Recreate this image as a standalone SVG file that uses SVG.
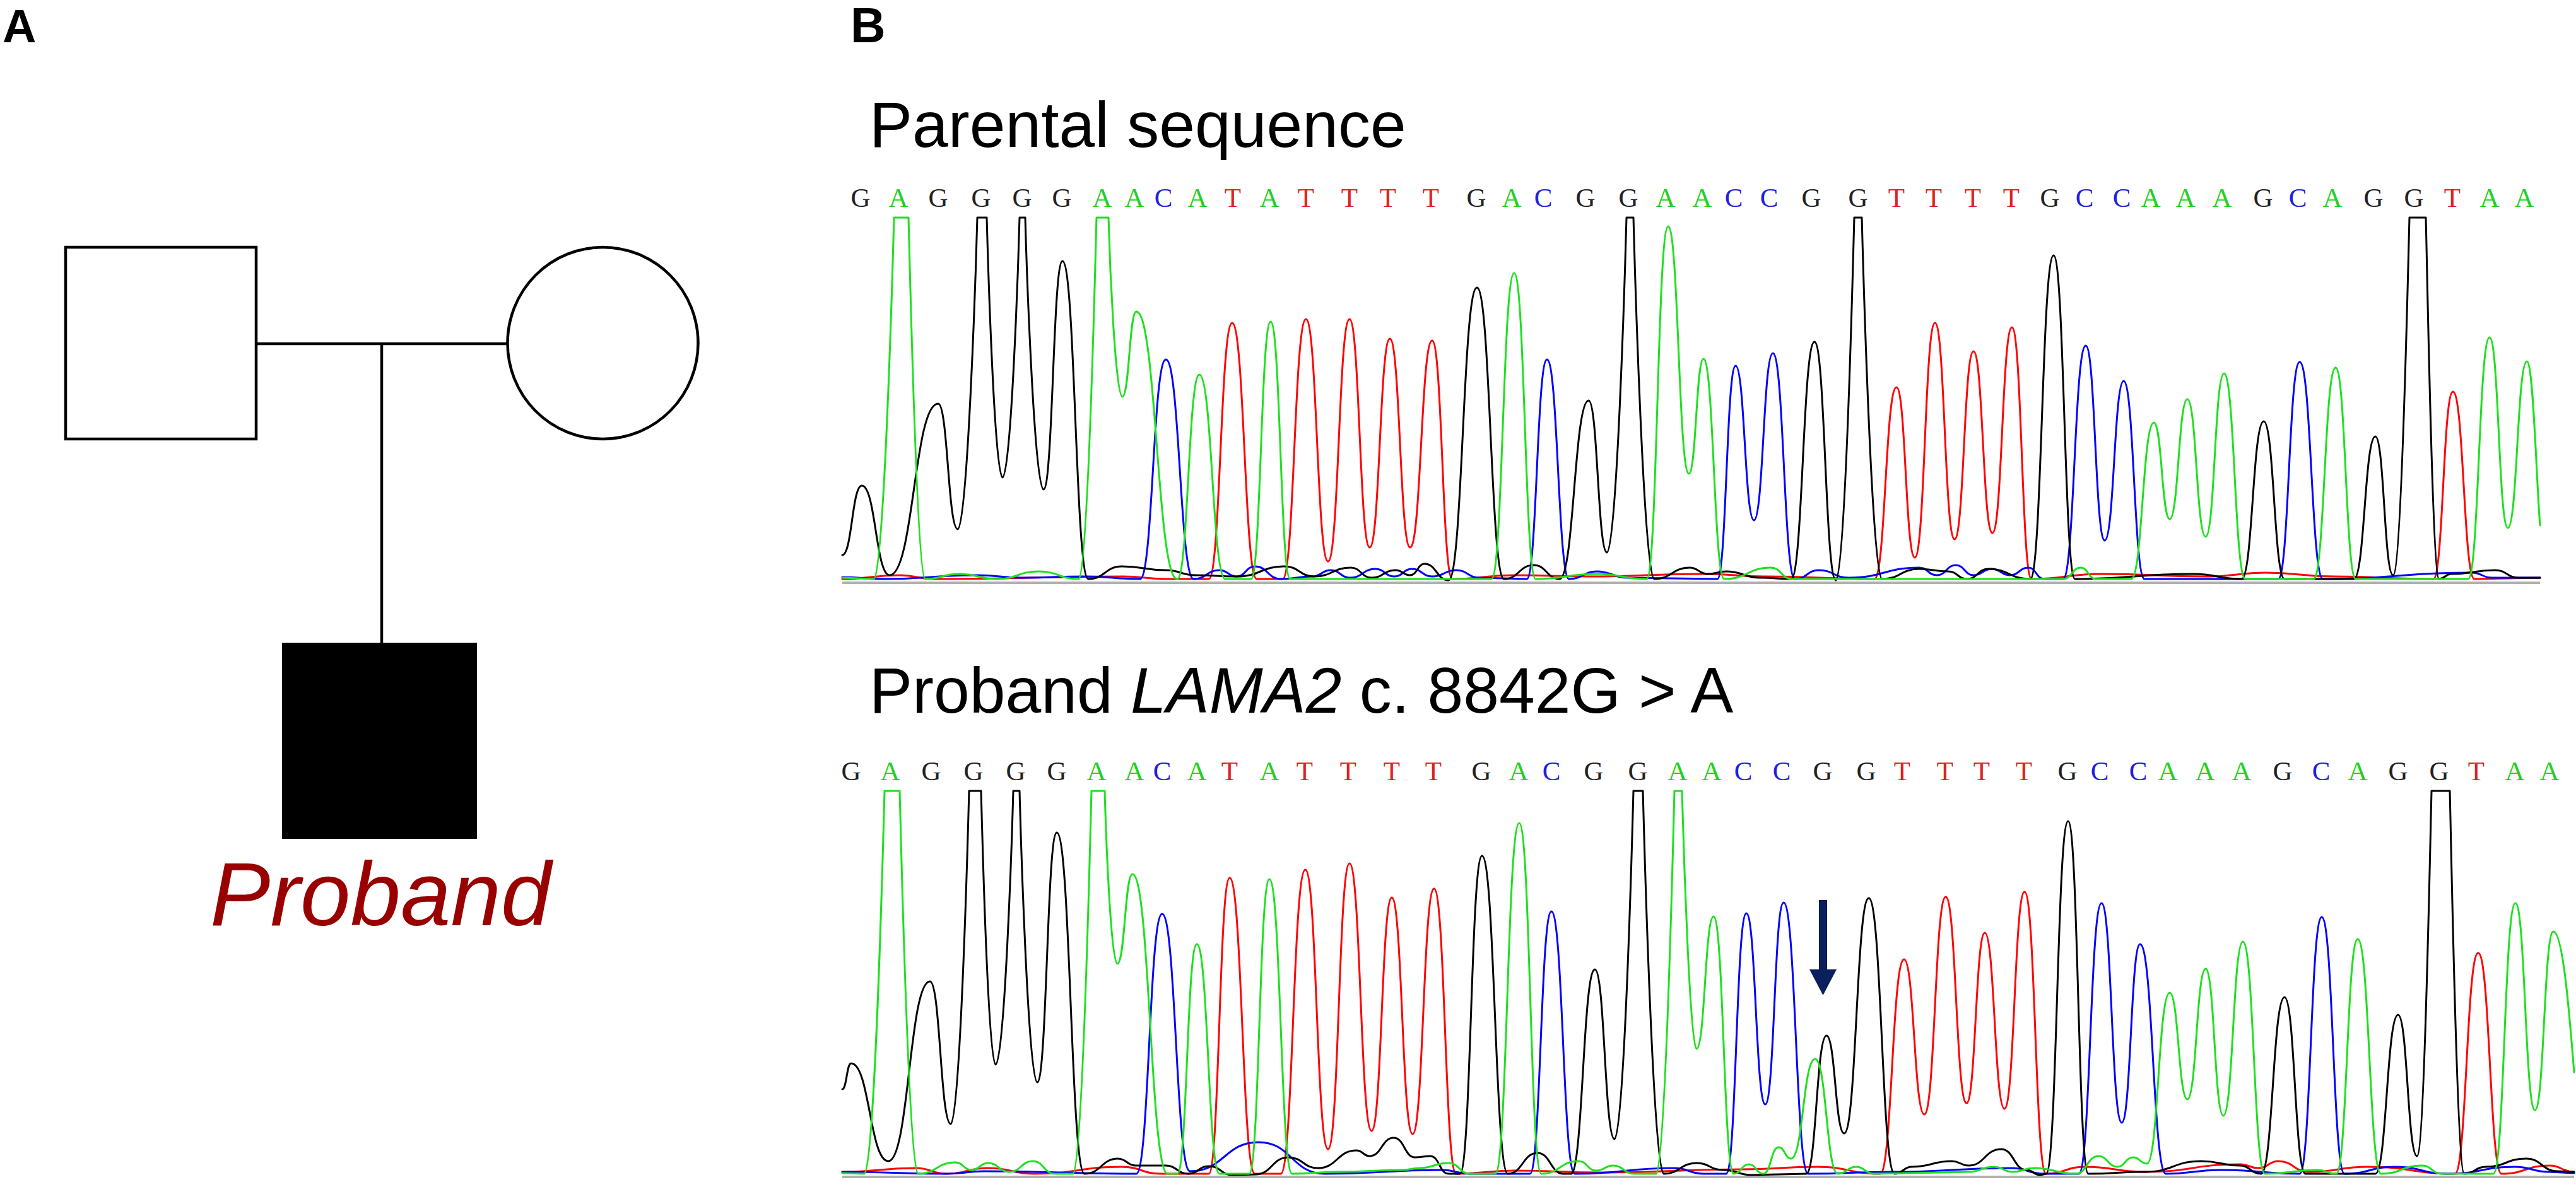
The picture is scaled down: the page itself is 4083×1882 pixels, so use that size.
<svg xmlns="http://www.w3.org/2000/svg" width="4083" height="1882" viewBox="0 0 4083 1882">
<style>
.lbl{font-family:"Liberation Sans",Arial,sans-serif;font-weight:bold;fill:#000}
.ped{fill:#fff;stroke:#000;stroke-width:4.5}
.con{fill:none;stroke:#000;stroke-width:4.5}
.title{font-family:"Liberation Sans",Arial,sans-serif;font-size:102px;fill:#000}
.seq{font-family:"Liberation Serif","Times New Roman",serif;font-size:43px;text-anchor:middle}
.sG{fill:#222}.sA{fill:#22d022}.sC{fill:#2020e0}.sT{fill:#e02020}
.tr{fill:none;stroke-width:3;stroke-linejoin:round;stroke-linecap:round}
.k{stroke:#000}.g{stroke:#1ee01e}.b{stroke:#0000ff}.r{stroke:#ff0000}
.axis{fill:#b0b0b0}
</style>

<text class="lbl" x="4" y="67" font-size="74">A</text>
<text class="lbl" x="1348" y="67" font-size="77">B</text>

<g id="connectors">
  <line class="con" x1="406" y1="545" x2="804" y2="545"/>
  <line class="con" x1="605" y1="545" x2="605" y2="1020"/>
</g>
<g id="father"><rect class="ped" x="104" y="392" width="302" height="304"/></g>
<g id="mother"><ellipse class="ped" cx="955.5" cy="544" rx="151" ry="152"/></g>
<g id="proband">
  <rect x="448" y="1020" width="307" height="309" fill="#000" stroke="#000" stroke-width="2"/>
  <text x="333" y="1467" font-family="'Liberation Sans',Arial,sans-serif" font-style="italic" font-size="143" fill="#990000">Proband</text>
</g>

<text class="title" x="1378" y="233">Parental sequence</text>
<text class="title" x="1378" y="1130">Proband <tspan font-style="italic">LAMA2</tspan> c. 8842G &gt; A</text>

<g id="seq-top" class="seq">
<text class="sG" x="1364" y="328">G</text><text class="sA" x="1424" y="328">A</text><text class="sG" x="1487" y="328">G</text><text class="sG" x="1555" y="328">G</text><text class="sG" x="1620" y="328">G</text><text class="sG" x="1683" y="328">G</text><text class="sA" x="1747" y="328">A</text><text class="sA" x="1798" y="328">A</text><text class="sC" x="1844" y="328">C</text><text class="sA" x="1898" y="328">A</text><text class="sT" x="1954" y="328">T</text><text class="sA" x="2012" y="328">A</text><text class="sT" x="2070" y="328">T</text><text class="sT" x="2139" y="328">T</text><text class="sT" x="2200" y="328">T</text><text class="sT" x="2268" y="328">T</text><text class="sG" x="2340" y="328">G</text><text class="sA" x="2396" y="328">A</text><text class="sC" x="2446" y="328">C</text><text class="sG" x="2513" y="328">G</text><text class="sG" x="2581" y="328">G</text><text class="sA" x="2640" y="328">A</text><text class="sA" x="2698" y="328">A</text><text class="sC" x="2748" y="328">C</text><text class="sC" x="2804" y="328">C</text><text class="sG" x="2871" y="328">G</text><text class="sG" x="2945" y="328">G</text><text class="sT" x="3006" y="328">T</text><text class="sT" x="3065" y="328">T</text><text class="sT" x="3127" y="328">T</text><text class="sT" x="3188" y="328">T</text><text class="sG" x="3249" y="328">G</text><text class="sC" x="3304" y="328">C</text><text class="sC" x="3363" y="328">C</text><text class="sA" x="3409" y="328">A</text><text class="sA" x="3464" y="328">A</text><text class="sA" x="3522" y="328">A</text><text class="sG" x="3587" y="328">G</text><text class="sC" x="3642" y="328">C</text><text class="sA" x="3697" y="328">A</text><text class="sG" x="3762" y="328">G</text><text class="sG" x="3826" y="328">G</text><text class="sT" x="3887" y="328">T</text><text class="sA" x="3946" y="328">A</text><text class="sA" x="4001" y="328">A</text>
</g>

<g id="seq-bottom" class="seq">
<text class="sG" x="1349" y="1237">G</text><text class="sA" x="1411" y="1237">A</text><text class="sG" x="1476" y="1237">G</text><text class="sG" x="1543" y="1237">G</text><text class="sG" x="1610" y="1237">G</text><text class="sG" x="1675" y="1237">G</text><text class="sA" x="1738" y="1237">A</text><text class="sA" x="1798" y="1237">A</text><text class="sC" x="1842" y="1237">C</text><text class="sA" x="1897" y="1237">A</text><text class="sT" x="1949" y="1237">T</text><text class="sA" x="2012" y="1237">A</text><text class="sT" x="2068" y="1237">T</text><text class="sT" x="2137" y="1237">T</text><text class="sT" x="2206" y="1237">T</text><text class="sT" x="2272" y="1237">T</text><text class="sG" x="2348" y="1237">G</text><text class="sA" x="2407" y="1237">A</text><text class="sC" x="2459" y="1237">C</text><text class="sG" x="2526" y="1237">G</text><text class="sG" x="2596" y="1237">G</text><text class="sA" x="2659" y="1237">A</text><text class="sA" x="2713" y="1237">A</text><text class="sC" x="2763" y="1237">C</text><text class="sC" x="2824" y="1237">C</text><text class="sG" x="2889" y="1237">G</text><text class="sG" x="2958" y="1237">G</text><text class="sT" x="3015" y="1237">T</text><text class="sT" x="3083" y="1237">T</text><text class="sT" x="3141" y="1237">T</text><text class="sT" x="3208" y="1237">T</text><text class="sG" x="3277" y="1237">G</text><text class="sC" x="3328" y="1237">C</text><text class="sC" x="3389" y="1237">C</text><text class="sA" x="3436" y="1237">A</text><text class="sA" x="3495" y="1237">A</text><text class="sA" x="3553" y="1237">A</text><text class="sG" x="3618" y="1237">G</text><text class="sC" x="3679" y="1237">C</text><text class="sA" x="3737" y="1237">A</text><text class="sG" x="3801" y="1237">G</text><text class="sG" x="3866" y="1237">G</text><text class="sT" x="3925" y="1237">T</text><text class="sA" x="3986" y="1237">A</text><text class="sA" x="4041" y="1237">A</text>
</g>

<g id="chromatogram-top">
<rect class="axis" x="1335" y="922" width="2691" height="4"/>
<path class="tr r" d="M1335,918 C1380.5,918 1380.5,912 1426,912 C1453,912 1453,918 1480,918 C1630,918 1630,914 1780,914 C1815,914 1815,918 1850,918 L1916,918 C1934.5,918 1934.5,512 1953,512 C1972.5,512 1972.5,918 1992,918 L2033,918 C2051.5,918 2051.5,506 2070,506 C2087.5,506 2087.5,890 2105,890 C2122,890 2122,506 2139,506 C2155,506 2155,868 2171,868 C2187,868 2187,537 2203,537 C2219,537 2219,868 2235,868 C2252.5,868 2252.5,540 2270,540 C2286,540 2286,918 2302,918 C2351,918 2351,912 2400,912 C2460,912 2460,914 2520,914 C2610,914 2610,910 2700,910 C2750,910 2750,914 2800,914 C2885.5,914 2885.5,918 2971,918 C2988.5,918 2988.5,614 3006,614 C3020.5,614 3020.5,884 3035,884 C3051,884 3051,512 3067,512 C3082.5,512 3082.5,855 3098,855 C3113,855 3113,557 3128,557 C3143,557 3143,845 3158,845 C3173.5,845 3173.5,519 3189,519 C3204.5,519 3204.5,918 3220,918 C3275,918 3275,910 3330,910 C3415,910 3415,914 3500,914 C3545,914 3545,908 3590,908 C3645,908 3645,914 3700,914 C3778.5,914 3778.5,918 3857,918 C3872.5,918 3872.5,621 3888,621 C3905,621 3905,918 3922,918 L4026,916"/>
<path class="tr b" d="M1335,915 C1367.5,915 1367.5,918 1400,918 C1474.5,918 1474.5,912 1549,912 C1584.5,912 1584.5,916 1620,916 C1670,916 1670,914 1720,914 C1763.5,914 1763.5,918 1807,918 C1827.5,918 1827.5,570 1848,570 C1870,570 1870,918 1892,918 C1912.5,918 1912.5,904 1933,904 C1946.5,904 1946.5,914 1960,914 C1974.5,914 1974.5,898 1989,898 C2009.5,898 2009.5,918 2030,918 C2055,918 2055,914 2080,914 C2094.5,914 2094.5,904 2109,904 C2124.5,904 2124.5,916 2140,916 C2160,916 2160,902 2180,902 C2195,902 2195,914 2210,914 C2224,914 2224,902 2238,902 C2254,902 2254,914 2270,914 C2289,914 2289,904 2308,904 C2326.5,904 2326.5,916 2345,916 L2420,918 C2436,918 2436,570 2452,570 C2469.5,570 2469.5,918 2487,918 C2509,918 2509,906 2531,906 C2555.5,906 2555.5,916 2580,916 L2722,918 C2736.5,918 2736.5,580 2751,580 C2765.5,580 2765.5,825 2780,825 C2795,825 2795,560 2810,560 C2827.5,560 2827.5,918 2845,918 C2864,918 2864,904 2883,904 C2906.5,904 2906.5,916 2930,916 C2986,916 2986,900 3042,900 C3056,900 3056,912 3070,912 C3085,912 3085,896 3100,896 C3114,896 3114,912 3128,912 C3142.5,912 3142.5,902 3157,902 C3171.5,902 3171.5,912 3186,912 C3200.5,912 3200.5,900 3215,900 C3227.5,900 3227.5,918 3240,918 L3270,918 C3288,918 3288,548 3306,548 C3321,548 3321,857 3336,857 C3351,857 3351,604 3366,604 C3382.5,604 3382.5,918 3399,918 L3611,918 C3628,918 3628,574 3645,574 C3663.5,574 3663.5,918 3682,918 C3800,918 3800,908 3918,908 C3934,908 3934,916 3950,916 L4026,916"/>
<path class="tr k" d="M1335,880 C1350.5,880 1350.5,770 1366,770 C1388,770 1388,912 1410,912 C1448.5,912 1448.5,640 1487,640 C1502.5,640 1502.5,839 1518,839 C1533.5,839 1547,420 1549,345 H1564 C1566,420 1576.5,757 1589,757 C1602.5,757 1614,420 1616,345 H1625 C1627,420 1639.5,776 1654,776 C1669,776 1669,414 1684,414 C1704.5,414 1704.5,918 1725,918 C1751.5,918 1751.5,898 1778,898 C1813,898 1813,904 1848,904 C1871.5,904 1871.5,912 1895,912 C1927.5,912 1927.5,914 1960,914 C1998,914 1998,898 2036,898 C2059.5,898 2059.5,914 2083,914 C2112,914 2112,900 2141,900 C2157.5,900 2157.5,916 2174,916 C2193,916 2193,904 2212,904 C2223.5,904 2223.5,912 2235,912 C2246.5,912 2246.5,894 2258,894 C2277,894 2277,920 2296,920 C2318.5,920 2318.5,456 2341,456 C2362.5,456 2362.5,918 2384,918 C2407.5,918 2407.5,896 2431,896 C2451.5,896 2451.5,918 2472,918 C2495,918 2495,635 2518,635 C2532.5,635 2532.5,876 2547,876 C2562.5,876 2576,420 2578,345 H2589 C2591,420 2605.5,918 2622,918 C2650,918 2650,900 2678,900 C2692.5,900 2692.5,910 2707,910 C2721.5,910 2721.5,906 2736,906 C2763,906 2763,916 2790,916 C2814.5,916 2814.5,918 2839,918 C2857.5,918 2857.5,542 2876,542 C2893,542 2893,920 2910,920 C2924.5,920 2937,420 2939,345 H2951 C2953,420 2967,918 2983,918 C3012.5,918 3012.5,902 3042,902 C3065,902 3065,906 3088,906 C3103,906 3103,918 3118,918 C3134.5,918 3134.5,902 3151,902 C3184.5,902 3184.5,918 3218,918 C3236.5,918 3236.5,405 3255,405 C3272,405 3272,918 3289,918 C3382.5,918 3382.5,910 3476,910 C3514.5,910 3514.5,918 3553,918 C3570.5,918 3570.5,668 3588,668 C3604.5,668 3604.5,918 3621,918 L3731,918 C3748,918 3748,692 3765,692 C3779,692 3779,912 3793,912 C3806,912 3817,420 3819,345 H3845 C3847,420 3855.5,918 3866,918 C3875.5,918 3875.5,910 3885,910 C3920,910 3920,904 3955,904 C3973.5,904 3973.5,916 3992,916 L4026,916"/>
<path class="tr g" d="M1335,916 L1385,918 C1401,918 1415,420 1417,345 H1440 C1442,420 1453.5,918 1467,918 C1493.5,918 1493.5,910 1520,910 C1550,910 1550,918 1580,918 C1613,918 1613,906 1646,906 C1678,906 1678,918 1710,918 C1724,918 1736,420 1738,345 H1757 C1759,420 1768,629 1779,629 C1790,629 1790,494 1801,494 C1833.5,494 1833.5,918 1866,918 C1883.5,918 1883.5,594 1901,594 C1921.5,594 1921.5,918 1942,918 L1983,918 C1998.5,918 1998.5,510 2014,510 C2029.5,510 2029.5,918 2045,918 L2364,918 C2382,918 2382,433 2400,433 C2417,433 2417,918 2434,918 C2482.5,918 2482.5,910 2531,910 C2570.5,910 2570.5,918 2610,918 C2627,918 2627,359 2644,359 C2660.5,359 2660.5,751 2677,751 C2688.5,751 2688.5,569 2700,569 C2716.5,569 2716.5,918 2733,918 C2770,918 2770,900 2807,900 C2823.5,900 2823.5,918 2840,918 L3270,918 C3284,918 3284,900 3298,900 C3310,900 3310,918 3322,918 L3378,918 C3396,918 3396,670 3414,670 C3426.5,670 3426.5,823 3439,823 C3453,823 3453,633 3467,633 C3481.5,633 3481.5,851 3496,851 C3510.5,851 3510.5,592 3525,592 C3542,592 3542,918 3559,918 L3667,918 C3684.5,918 3684.5,583 3702,583 C3718,583 3718,918 3734,918 L3912,918 C3929,918 3929,535 3946,535 C3960.5,535 3960.5,837 3975,837 C3990,837 3990,573 4005,573 C4015.5,573 4020,760 4026,833"/>
</g>

<g id="chromatogram-bottom">
<rect class="axis" x="1335" y="1864" width="2745" height="4"/>
<path class="tr r" d="M1335,1858 C1393.5,1858 1393.5,1852 1452,1852 C1476,1852 1476,1861 1500,1861 C1533,1861 1533,1852 1566,1852 C1603,1852 1603,1861 1640,1861 C1709,1861 1709,1850 1778,1850 C1809,1850 1809,1861 1840,1861 L1916,1861 C1932.5,1861 1932.5,1392 1949,1392 C1969,1392 1969,1861 1989,1861 L2030,1861 C2049.5,1861 2049.5,1379 2069,1379 C2087,1379 2087,1822 2105,1822 C2122,1822 2122,1369 2139,1369 C2156.5,1369 2156.5,1793 2174,1793 C2190,1793 2190,1423 2206,1423 C2222.5,1423 2222.5,1798 2239,1798 C2256,1798 2256,1409 2273,1409 C2290.5,1409 2290.5,1861 2308,1861 C2354,1861 2354,1856 2400,1856 C2470,1856 2470,1859 2540,1859 C2650,1859 2650,1854 2760,1854 C2820,1854 2820,1850 2880,1850 C2930,1850 2930,1861 2980,1861 C2999,1861 2999,1521 3018,1521 C3034,1521 3034,1767 3050,1767 C3067,1767 3067,1422 3084,1422 C3100.5,1422 3100.5,1749 3117,1749 C3131.5,1749 3131.5,1479 3146,1479 C3161.5,1479 3161.5,1758 3177,1758 C3193,1758 3193,1414 3209,1414 C3226,1414 3226,1861 3243,1861 C3273.5,1861 3273.5,1850 3304,1850 C3352,1850 3352,1858 3400,1858 C3475,1858 3475,1846 3550,1846 C3565,1846 3565,1852 3580,1852 C3595.5,1852 3595.5,1841 3611,1841 C3635.5,1841 3635.5,1858 3660,1858 C3706.5,1858 3706.5,1850 3753,1850 C3822,1850 3822,1861 3891,1861 C3909.5,1861 3909.5,1511 3928,1511 C3946.5,1511 3946.5,1861 3965,1861 C4003,1861 4003,1848 4041,1848 C4060.5,1848 4060.5,1858 4080,1858"/>
<path class="tr b" d="M1335,1858 C1417.5,1858 1417.5,1861 1500,1861 C1530,1861 1530,1857 1560,1857 C1680,1857 1680,1861 1801,1861 C1821.5,1861 1821.5,1449 1842,1449 C1864,1449 1864,1857 1886,1857 C1940.5,1857 1940.5,1811 1995,1811 C2047.5,1811 2047.5,1861 2100,1861 C2192.5,1861 2192.5,1855 2285,1855 C2307.5,1855 2307.5,1861 2330,1861 L2425,1861 C2442,1861 2442,1445 2459,1445 C2477.5,1445 2477.5,1861 2496,1861 C2575,1861 2575,1852 2654,1852 C2677,1852 2677,1861 2700,1861 L2736,1861 C2752,1861 2752,1448 2768,1448 C2783,1448 2783,1751 2798,1751 C2812.5,1751 2812.5,1431 2827,1431 C2846.5,1431 2846.5,1861 2866,1861 C2933,1861 2933,1858 3000,1858 C3094,1858 3094,1852 3188,1852 C3214,1852 3214,1861 3240,1861 L3295,1861 C3313,1861 3313,1432 3331,1432 C3347,1432 3347,1780 3363,1780 C3377.5,1780 3377.5,1497 3392,1497 C3412.5,1497 3412.5,1861 3433,1861 C3476.5,1861 3476.5,1855 3520,1855 C3582.5,1855 3582.5,1861 3645,1861 C3662.5,1861 3662.5,1454 3680,1454 C3698,1454 3698,1861 3716,1861 C3756,1861 3756,1850 3796,1850 C3838,1850 3838,1861 3880,1861 C3933,1861 3933,1850 3986,1850 C4013,1850 4013,1858 4040,1858 L4080,1860"/>
<path class="tr k" d="M1335,1727 C1342,1727 1342,1686 1349,1686 C1378.5,1686 1378.5,1841 1408,1841 C1441,1841 1441,1556 1474,1556 C1490.5,1556 1490.5,1782 1507,1782 C1521.5,1782 1534,1330 1536,1254 H1555 C1557,1330 1566.5,1688 1578,1688 C1592,1688 1604,1330 1606,1254 H1616 C1618,1330 1630,1716 1644,1716 C1659.5,1716 1659.5,1320 1675,1320 C1697,1320 1697,1861 1719,1861 C1745.5,1861 1745.5,1837 1772,1837 C1786,1837 1786,1848 1800,1848 L1848,1848 C1865.5,1848 1865.5,1861 1883,1861 C1899.5,1861 1899.5,1849 1916,1849 C1935,1849 1935,1863 1954,1863 L1990,1862 C2016,1862 2016,1835 2042,1835 C2065.5,1835 2065.5,1852 2089,1852 C2119.5,1852 2119.5,1824 2150,1824 C2160.5,1824 2160.5,1833 2171,1833 C2190,1833 2190,1804 2209,1804 C2226,1804 2226,1835 2243,1835 C2255,1835 2255,1833 2267,1833 C2281.5,1833 2281.5,1861 2296,1861 L2314,1861 C2331.5,1861 2331.5,1357 2349,1357 C2369.5,1357 2369.5,1861 2390,1861 C2413.5,1861 2413.5,1828 2437,1828 C2457.5,1828 2457.5,1861 2478,1861 L2490,1861 C2509,1861 2509,1537 2528,1537 C2543.5,1537 2543.5,1806 2559,1806 C2574,1806 2587,1330 2589,1254 H2604 C2606,1330 2620.5,1861 2637,1861 C2663,1861 2663,1844 2689,1844 C2710,1844 2710,1855 2731,1855 C2754,1855 2754,1863 2777,1863 L2863,1861 C2879,1861 2879,1642 2895,1642 C2909,1642 2909,1797 2923,1797 C2942.5,1797 2942.5,1424 2962,1424 C2982.5,1424 2982.5,1861 3003,1861 C3016.5,1861 3016.5,1850 3030,1850 C3062,1850 3062,1841 3094,1841 C3107,1841 3107,1848 3120,1848 C3146,1848 3146,1822 3172,1822 C3192,1822 3192,1855 3212,1855 C3223,1855 3223,1863 3234,1863 L3243,1861 C3260.5,1861 3260.5,1302 3278,1302 C3294,1302 3294,1861 3310,1861 C3355,1861 3355,1858 3400,1858 C3444.5,1858 3444.5,1841 3489,1841 C3519.5,1841 3519.5,1848 3550,1848 C3567,1848 3567,1861 3584,1861 C3602.5,1861 3602.5,1581 3621,1581 C3637.5,1581 3637.5,1861 3654,1861 L3765,1861 C3783,1861 3783,1609 3801,1609 C3816,1609 3816,1833 3831,1833 C3842.5,1833 3852,1330 3854,1254 H3883 C3885,1330 3894.5,1861 3906,1861 C3923,1861 3923,1850 3940,1850 C3972,1850 3972,1837 4004,1837 C4029,1837 4029,1857 4054,1857 L4080,1858"/>
<path class="tr g" d="M1335,1860 L1370,1861 C1386,1861 1400,1330 1402,1254 H1426 C1428,1330 1440.5,1861 1455,1861 C1484.5,1861 1484.5,1843 1514,1843 C1527,1843 1527,1855 1540,1855 C1553,1855 1553,1844 1566,1844 C1583,1844 1583,1858 1600,1858 C1618.5,1858 1618.5,1841 1637,1841 C1654.5,1841 1654.5,1861 1672,1861 L1701,1861 C1715.5,1861 1728,1330 1730,1254 H1751 C1753,1330 1761,1528 1771,1528 C1783,1528 1783,1386 1795,1386 C1823,1386 1823,1861 1851,1861 L1866,1861 C1881.5,1861 1881.5,1497 1897,1497 C1915,1497 1915,1861 1933,1861 L1980,1861 C1996,1861 1996,1394 2012,1394 C2030,1394 2030,1861 2048,1861 C2084,1861 2084,1858 2120,1858 C2172,1858 2172,1855 2224,1855 C2236.5,1855 2236.5,1852 2249,1852 C2272.5,1852 2272.5,1844 2296,1844 C2313,1844 2313,1861 2330,1861 L2370,1861 C2389,1861 2389,1305 2408,1305 C2425.5,1305 2425.5,1861 2443,1861 C2472.5,1861 2472.5,1841 2502,1841 C2516,1841 2516,1856 2530,1856 C2543.5,1856 2543.5,1848 2557,1848 C2573.5,1848 2573.5,1861 2590,1861 L2625,1861 C2639.5,1861 2652,1330 2654,1254 H2666 C2668,1330 2678.5,1663 2689,1663 C2702.5,1663 2702.5,1453 2716,1453 C2732,1453 2732,1861 2748,1861 C2760,1861 2760,1846 2772,1846 C2783.5,1846 2783.5,1861 2795,1861 C2807,1861 2807,1819 2819,1819 C2829,1819 2829,1837 2839,1837 C2858,1837 2858,1679 2877,1679 C2895,1679 2895,1861 2913,1861 C2927.5,1861 2927.5,1850 2942,1850 C2956,1850 2956,1861 2970,1861 L3120,1858 C3140,1858 3140,1850 3160,1850 C3175,1850 3175,1858 3190,1858 C3207,1858 3207,1852 3224,1852 C3257,1852 3257,1861 3290,1861 C3308,1861 3308,1833 3326,1833 C3341,1833 3341,1850 3356,1850 C3368.5,1850 3368.5,1835 3381,1835 C3392,1835 3392,1845 3403,1845 C3421,1845 3421,1574 3439,1574 C3453,1574 3453,1743 3467,1743 C3481.5,1743 3481.5,1536 3496,1536 C3510,1536 3510,1769 3524,1769 C3539.5,1769 3539.5,1493 3555,1493 C3572.5,1493 3572.5,1861 3590,1861 C3631.5,1861 3631.5,1855 3673,1855 C3688,1855 3688,1861 3703,1861 C3720,1861 3720,1489 3737,1489 C3755.5,1489 3755.5,1861 3774,1861 C3806.5,1861 3806.5,1848 3839,1848 C3854.5,1848 3854.5,1861 3870,1861 L3952,1861 C3969.5,1861 3969.5,1432 3987,1432 C4002.5,1432 4002.5,1760 4018,1760 C4032.5,1760 4032.5,1477 4047,1477 C4062,1477 4072,1600 4080,1700"/>
<g id="arrow" fill="#0b1f5c">
  <rect x="2883" y="1427" width="13" height="112"/>
  <polygon points="2868,1537 2911,1537 2889.5,1578"/>
</g>
</g>
</svg>
